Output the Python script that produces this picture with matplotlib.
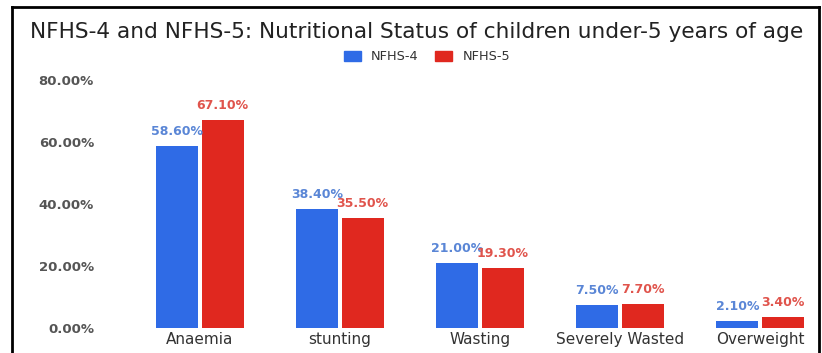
import numpy as np
import matplotlib
matplotlib.use('Agg')
import matplotlib.pyplot as plt
from matplotlib.lines import Line2D
from matplotlib.patches import Patch

# data
categories = ['Anaemia', 'stunting', 'Wasting', 'Severely Wasted', 'Overweight']
nfhs4 = [58.6, 38.4, 21.0, 7.5, 2.1]
nfhs5 = [67.1, 35.5, 19.3, 7.7, 3.4]
yticks = [0, 20, 40, 60, 80]

blue = '#2f6be6'
red = '#e0281f'
blue_txt = '#5a86d6'
red_txt = '#e0544c'

plt.rcParams['font.family'] = ['DejaVu Sans']

W, H = 822, 353
fig = plt.figure(figsize=(W / 100, H / 100), dpi=100)
ax = fig.add_axes([130 / W, 25 / H, 680 / W, 248 / H])

x = np.arange(len(categories))
bw = 0.3
off = bw / 2 + 0.012
ax.bar(x - off, nfhs4, bw, color=blue, label='NFHS-4')
ax.bar(x + off, nfhs5, bw, color=red, label='NFHS-5')

for xi, v in zip(x, nfhs4):
    ax.text(xi - off, v + 2.6, '%.2f%%' % v, ha='center', va='bottom',
            fontsize=9, color=blue_txt, fontweight='bold')
for xi, v in zip(x, nfhs5):
    ax.text(xi + off, v + 2.6, '%.2f%%' % v, ha='center', va='bottom',
            fontsize=9, color=red_txt, fontweight='bold')

ax.set_xlim(-0.5, 4.357)
ax.set_ylim(0, 80)
ax.set_yticks(yticks)
ax.set_yticklabels(['%.2f%%' % t for t in yticks], fontsize=9.5, color='#555555',
                   fontweight='bold')
ax.set_xticks(x)
ax.set_xticklabels(categories, fontsize=11, color='#333333')
ax.tick_params(axis='both', length=0)
ax.tick_params(axis='y', pad=26)
ax.tick_params(axis='x', pad=3)
for s in ax.spines.values():
    s.set_visible(False)

fig.text(30 / W, 1 - 32 / H, 'NFHS-4 and NFHS-5: Nutritional Status of children under-5 years of age',
         fontsize=15.6, color='#222222', ha='left', va='center')

handles = [Patch(color=blue), Patch(color=red)]
fig.legend(handles, ['NFHS-4', 'NFHS-5'], loc='center', bbox_to_anchor=(427 / W, 1 - 57 / H),
           ncol=2, frameon=False, fontsize=9.3, handlelength=1.3, handleheight=0.9,
           columnspacing=1.3, handletextpad=0.8, labelcolor='#333333')

# screenshot frame
fx0, fx1, fy1 = 11.5 / W, 818.5 / W, 1 - 7 / H
for xs, ys in [([fx0, fx0], [0, fy1]), ([fx0, fx1], [fy1, fy1]), ([fx1, fx1], [fy1, 0])]:
    fig.add_artist(Line2D(xs, ys, color='black', lw=2))

fig.savefig('out.png', dpi=100)
